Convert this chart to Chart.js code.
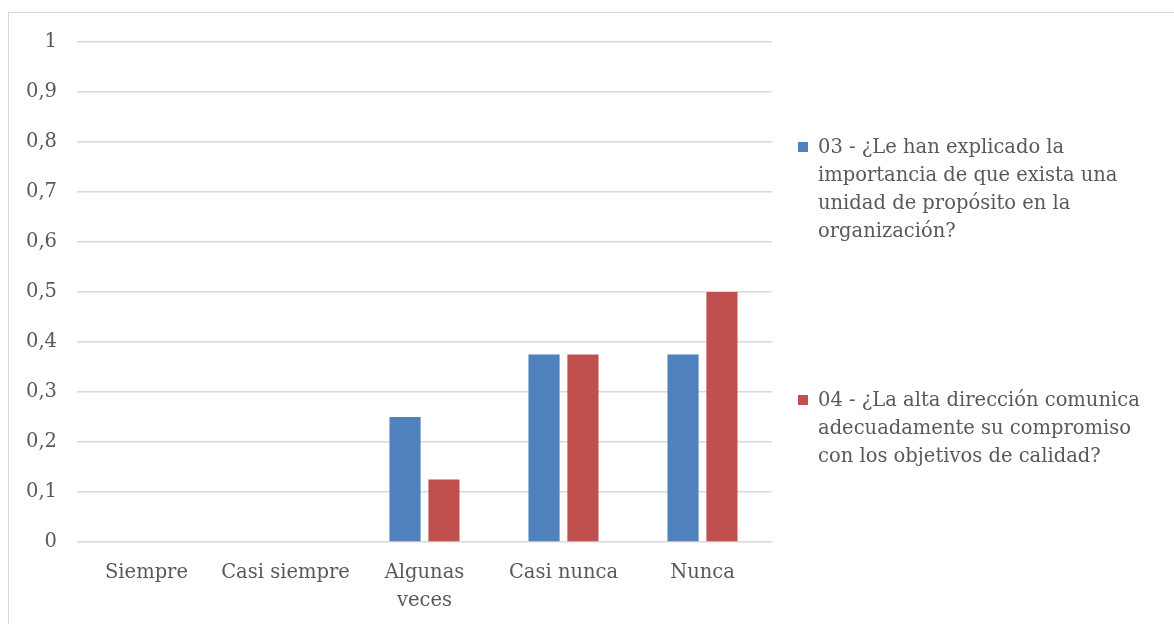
<!DOCTYPE html>
<html>
<head>
<meta charset="utf-8">
<script src="https://cdn.jsdelivr.net/npm/chart.js@4"></script>
<style>
  html, body { margin: 0; padding: 0; background: #fff; overflow: hidden; }
  body { width: 1174px; height: 624px; position: relative; font-family: "DejaVu Serif", serif; }
  #marco { position: absolute; left: 8px; top: 12px; width: 1300px; height: 800px; border: 1px solid #d9d9d9; }
  #lienzo { position: absolute; left: 0; top: 0; width: 1174px; height: 624px; }
  .leyenda { position: absolute; left: 798px; width: 352px; color: #595959; font-size: 19.5px; line-height: 28px; }
  .leyenda .cuadro { position: absolute; left: 0; top: 9px; width: 10px; height: 10px; }
  .leyenda .texto { margin-left: 20px; }
</style>
</head>
<body>
<div id="marco"></div>
<div id="lienzo"><canvas id="grafico" width="1174" height="624"></canvas></div>
<div id="leyenda"></div>
<script>
// Datos
var categorias = ['Siempre', 'Casi siempre', ['Algunas', 'veces'], 'Casi nunca', 'Nunca'];
var serie03 = [0, 0, 0.25, 0.375, 0.375];
var serie04 = [0, 0, 0.125, 0.375, 0.5];
var nombres = [
  '03 - ¿Le han explicado la importancia de que exista una unidad de propósito en la organización?',
  '04 - ¿La alta dirección comunica adecuadamente su compromiso con los objetivos de calidad?'
];
var colores = ['#4f81bd', '#c0504d'];
var etiquetasY = ['0', '0,1', '0,2', '0,3', '0,4', '0,5', '0,6', '0,7', '0,8', '0,9', '1'];

var gris = '#595959';
var fuente = { family: '"DejaVu Serif", serif', size: 19.5, lineHeight: 1.44 };

var ctx = document.getElementById('grafico').getContext('2d');
var grafico = new Chart(ctx, {
  type: 'bar',
  data: {
    labels: categorias,
    datasets: [
      { label: nombres[0], data: serie03, backgroundColor: colores[0], borderWidth: 0 },
      { label: nombres[1], data: serie04, backgroundColor: colores[1], borderWidth: 0 }
    ]
  },
  options: {
    responsive: false,
    animation: false,
    layout: { padding: { top: 42, right: 402, left: 0, bottom: 0 } },
    categoryPercentage: 0.56,
    barPercentage: 0.8,
    plugins: {
      legend: { display: false },
      tooltip: { enabled: false }
    },
    scales: {
      x: {
        grid: { display: false, drawTicks: false },
        border: { display: false },
        ticks: { color: gris, font: fuente, padding: 17, maxRotation: 0 },
        afterFit: function(eje) { eje.height = 82; }
      },
      y: {
        min: 0,
        max: 1,
        grid: { color: '#d9d9d9', lineWidth: 1.5, drawTicks: false },
        border: { display: false },
        ticks: {
          stepSize: 0.1,
          color: gris,
          font: { family: '"DejaVu Serif", serif', size: 19.5 },
          padding: 20,
          callback: function(valor, indice) { return etiquetasY[indice]; }
        },
        afterFit: function(eje) { eje.width = 77; }
      }
    }
  }
});

// Leyenda a la derecha, como en el original
var posiciones = [133, 386];
var leyenda = document.getElementById('leyenda');
grafico.data.datasets.forEach(function(ds, i) {
  var item = document.createElement('div');
  item.className = 'leyenda';
  item.style.top = posiciones[i] + 'px';
  item.innerHTML = '<div class="cuadro" style="background:' + ds.backgroundColor + '"></div><div class="texto">' + ds.label + '</div>';
  leyenda.appendChild(item);
});
</script>
</body>
</html>
